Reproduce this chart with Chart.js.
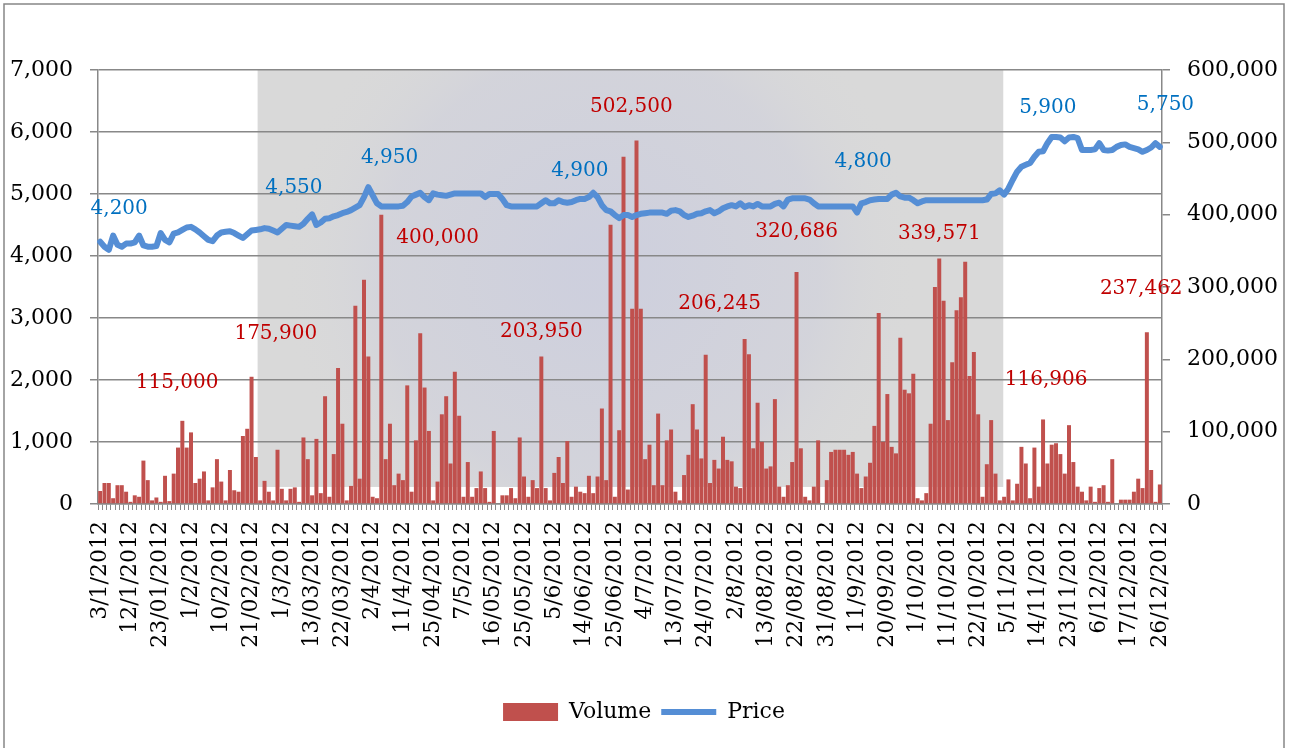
<!DOCTYPE html>
<html><head><meta charset="utf-8">
<script src="https://cdn.jsdelivr.net/npm/chart.js@4.4.0/dist/chart.umd.min.js"></script>
<style>html,body{margin:0;padding:0;background:#fff;}#wrap{position:relative;width:1291px;height:748px;overflow:hidden}</style>
</head><body><div id="wrap"><canvas id="c" width="1291" height="748"></canvas></div>
<script>
const dates = [
'3/1/2012','4/1/2012','5/1/2012','6/1/2012','9/1/2012','10/1/2012','11/1/2012',
'12/1/2012','13/01/2012','16/01/2012','17/01/2012','18/01/2012','19/01/2012','20/01/2012',
'23/01/2012','24/01/2012','25/01/2012','26/01/2012','27/01/2012','30/01/2012','31/01/2012',
'1/2/2012','2/2/2012','3/2/2012','6/2/2012','7/2/2012','8/2/2012','9/2/2012',
'10/2/2012','13/02/2012','14/02/2012','15/02/2012','16/02/2012','17/02/2012','20/02/2012',
'21/02/2012','22/02/2012','23/02/2012','24/02/2012','27/02/2012','28/02/2012','29/02/2012',
'1/3/2012','2/3/2012','5/3/2012','6/3/2012','7/3/2012','8/3/2012','9/3/2012',
'13/03/2012','14/03/2012','15/03/2012','16/03/2012','19/03/2012','20/03/2012','21/03/2012',
'22/03/2012','23/03/2012','26/03/2012','27/03/2012','28/03/2012','29/03/2012','30/03/2012',
'2/4/2012','3/4/2012','4/4/2012','5/4/2012','6/4/2012','9/4/2012','10/4/2012',
'11/4/2012','12/4/2012','13/04/2012','16/04/2012','17/04/2012','19/04/2012','23/04/2012',
'25/04/2012','26/04/2012','27/04/2012','30/04/2012','2/5/2012','3/5/2012','4/5/2012',
'7/5/2012','8/5/2012','9/5/2012','10/5/2012','11/5/2012','14/05/2012','15/05/2012',
'16/05/2012','17/05/2012','18/05/2012','21/05/2012','22/05/2012','23/05/2012','24/05/2012',
'25/05/2012','28/05/2012','29/05/2012','30/05/2012','31/05/2012','1/6/2012','4/6/2012',
'5/6/2012','6/6/2012','7/6/2012','8/6/2012','11/6/2012','12/6/2012','13/06/2012',
'14/06/2012','15/06/2012','18/06/2012','19/06/2012','20/06/2012','21/06/2012','22/06/2012',
'25/06/2012','26/06/2012','27/06/2012','28/06/2012','29/06/2012','2/7/2012','3/7/2012',
'4/7/2012','5/7/2012','6/7/2012','9/7/2012','10/7/2012','11/7/2012','12/7/2012',
'13/07/2012','16/07/2012','17/07/2012','18/07/2012','19/07/2012','20/07/2012','23/07/2012',
'24/07/2012','25/07/2012','26/07/2012','27/07/2012','30/07/2012','31/07/2012','1/8/2012',
'2/8/2012','3/8/2012','6/8/2012','7/8/2012','8/8/2012','9/8/2012','10/8/2012',
'13/08/2012','14/08/2012','15/08/2012','16/08/2012','17/08/2012','20/08/2012','21/08/2012',
'22/08/2012','23/08/2012','24/08/2012','27/08/2012','28/08/2012','29/08/2012','30/08/2012',
'31/08/2012','3/9/2012','4/9/2012','5/9/2012','6/9/2012','7/9/2012','10/9/2012',
'11/9/2012','12/9/2012','13/09/2012','14/09/2012','17/09/2012','18/09/2012','19/09/2012',
'20/09/2012','21/09/2012','24/09/2012','25/09/2012','26/09/2012','27/09/2012','28/09/2012',
'1/10/2012','2/10/2012','3/10/2012','4/10/2012','5/10/2012','8/10/2012','9/10/2012',
'11/10/2012','12/10/2012','15/10/2012','16/10/2012','17/10/2012','18/10/2012','19/10/2012',
'22/10/2012','23/10/2012','24/10/2012','25/10/2012','26/10/2012','29/10/2012','30/10/2012',
'5/11/2012','6/11/2012','7/11/2012','8/11/2012','9/11/2012','12/11/2012','13/11/2012',
'14/11/2012','15/11/2012','16/11/2012','19/11/2012','20/11/2012','21/11/2012','22/11/2012',
'23/11/2012','26/11/2012','27/11/2012','28/11/2012','29/11/2012','30/11/2012','3/12/2012',
'6/12/2012','7/12/2012','10/12/2012','11/12/2012','12/12/2012','13/12/2012','14/12/2012',
'17/12/2012','18/12/2012','19/12/2012','20/12/2012','21/12/2012','24/12/2012','25/12/2012',
'26/12/2012'];

const volume = [
18000,29000,29000,8000,26000,26000,17000,3000,12000,10000,
60000,33000,5000,9000,3000,39000,4000,42000,78000,115000,
78000,99000,29000,35000,45000,5000,23000,62000,31000,5000,
47000,19000,17000,94000,104000,175900,65000,5000,32000,17000,
5000,75000,21000,5000,21000,23000,3000,92000,62000,12000,
90000,15000,149000,10000,69000,188000,111000,5000,25000,274000,
35000,310000,204000,10000,8000,400000,62000,111000,26000,42000,
33000,164000,17000,88000,236000,161000,101000,5000,31000,124000,
149000,56000,183000,122000,10000,58000,10000,22000,45000,22000,
3000,101000,0,12000,12000,22000,8000,92000,38000,10000,
33000,22000,203950,22000,5000,43000,65000,29000,87000,10000,
24000,17000,15000,39000,15000,38000,132000,33000,386000,10000,
102000,480000,20000,270000,502500,270000,62000,82000,26000,125000,
26000,88000,103000,17000,5000,40000,68000,138000,103000,63000,
206245,29000,61000,49000,93000,61000,59000,24000,22000,228000,
207000,77000,140000,86000,49000,52000,145000,24000,10000,26000,
58000,320686,77000,10000,5000,24000,88000,0,33000,72000,
75000,75000,75000,68000,72000,42000,22000,38000,57000,108000,
264000,86000,152000,79000,70000,230000,158000,153000,180000,8000,
5000,15000,111000,300000,339571,281000,116000,196000,268000,286000,
335000,177000,210000,124000,10000,55000,116000,42000,5000,10000,
34000,5000,28000,79000,56000,8000,78000,24000,116906,56000,
82000,84000,69000,42000,109000,58000,24000,17000,5000,24000,
3000,22000,26000,3000,62000,1000,6000,6000,6000,17000,
35000,22000,237462,47000,3000,27000];

const price = [
4230,4150,4100,4330,4180,4150,4200,4200,4220,4330,
4170,4150,4150,4160,4370,4260,4220,4360,4380,4420,
4460,4470,4430,4380,4320,4260,4240,4330,4380,4390,
4400,4370,4330,4290,4350,4410,4420,4430,4450,4440,
4410,4380,4440,4500,4490,4480,4470,4520,4600,4670,
4500,4540,4600,4610,4640,4660,4690,4710,4740,4780,
4820,4950,5110,4980,4850,4800,4800,4800,4800,4800,
4810,4870,4960,4990,5020,4950,4900,5010,4990,4980,
4970,4990,5010,5010,5010,5010,5010,5010,5010,4950,
5000,5000,5000,4920,4820,4800,4800,4800,4800,4800,
4800,4800,4850,4900,4850,4850,4900,4870,4860,4870,
4900,4920,4920,4950,5020,4950,4820,4740,4720,4660,
4610,4660,4660,4630,4660,4680,4690,4700,4700,4700,
4700,4680,4730,4740,4720,4660,4630,4650,4680,4690,
4720,4740,4690,4720,4770,4800,4820,4800,4850,4790,
4820,4800,4840,4800,4800,4800,4840,4860,4800,4910,
4930,4930,4930,4930,4910,4850,4800,4800,4800,4800,
4800,4800,4800,4800,4800,4700,4850,4870,4900,4910,
4920,4920,4920,4990,5020,4960,4940,4940,4900,4850,
4880,4900,4900,4900,4900,4900,4900,4900,4900,4900,
4900,4900,4900,4900,4900,4910,5000,5010,5060,4990,
5090,5230,5360,5440,5470,5500,5600,5680,5690,5820,
5920,5920,5910,5850,5910,5920,5900,5710,5710,5710,
5720,5820,5710,5700,5710,5760,5790,5800,5760,5740,
5720,5680,5710,5750,5820,5760];

const seriesNames = ['Volume', 'Price'];
const priceAxis = {min: 0, max: 7000, step: 1000};
const volumeAxis = {min: 0, max: 600000, step: 100000};
const labelEvery = 7;

// callout texts: category position (index) and height on the price axis
const notes = [
  {text:'4,200',   kind:'price',  at:4.4,   level:4754},
  {text:'4,550',   kind:'price',  at:44.8,  level:5108},
  {text:'4,950',   kind:'price',  at:66.9,  level:5576},
  {text:'4,900',   kind:'price',  at:110.9, level:5376},
  {text:'4,800',   kind:'price',  at:176.4, level:5521},
  {text:'5,900',   kind:'price',  at:219.1, level:6383},
  {text:'5,750',   kind:'price',  at:246.3, level:6436},
  {text:'115,000', kind:'volume', at:17.8,  level:1957},
  {text:'175,900', kind:'volume', at:40.6,  level:2753},
  {text:'400,000', kind:'volume', at:78.0,  level:4291},
  {text:'203,950', kind:'volume', at:102.0, level:2779},
  {text:'502,500', kind:'volume', at:122.8, level:6399},
  {text:'206,245', kind:'volume', at:143.2, level:3237},
  {text:'320,686', kind:'volume', at:161.0, level:4392},
  {text:'339,571', kind:'volume', at:194.0, level:4366},
  {text:'116,906', kind:'volume', at:218.7, level:2011},
  {text:'237,462', kind:'volume', at:240.7, level:3479}
];
// shaded picture band behind the plot (category range, bottom on price axis)
const band = {from:36.4, to:208.8, bottomLevel:275};

const FONT = "'DejaVu Serif', 'Liberation Serif', serif";
const BAR_COLOR = '#C0504D';
const LINE_COLOR = '#558ED5';
const GRID = '#888888';

const backdrop = {
  id: 'backdrop',
  beforeDraw(chart) {
    const {ctx, chartArea, scales} = chart;
    const x0 = scales.x.getPixelForValue(band.from);
    const x1 = scales.x.getPixelForValue(band.to);
    const y0 = chartArea.top;
    const y1 = scales.y.getPixelForValue(band.bottomLevel);
    ctx.save();
    ctx.fillStyle = '#d9d9d9';
    ctx.fillRect(x0, y0, x1 - x0, y1 - y0);
    ctx.beginPath();
    ctx.rect(x0, y0, x1 - x0, y1 - y0);
    ctx.clip();
    const cx = (x0 + x1) / 2 - 30, cy = (y0 + y1) / 2 - 10;
    const g = ctx.createRadialGradient(cx, cy, 30, cx, cy, 320);
    g.addColorStop(0, 'rgba(204,206,222,0.85)');
    g.addColorStop(0.65, 'rgba(206,207,220,0.55)');
    g.addColorStop(1, 'rgba(217,217,217,0)');
    ctx.fillStyle = g;
    ctx.fillRect(x0, y0, x1 - x0, y1 - y0);
    ctx.restore();
  },
  afterDraw(chart) {
    const {ctx} = chart;
    ctx.save();
    ctx.strokeStyle = '#868686';
    ctx.lineWidth = 1.5;
    ctx.strokeRect(4, 4, 1280, 800);
    ctx.restore();
  }
};

const callouts = {
  id: 'callouts',
  afterDatasetsDraw(chart) {
    const {ctx, scales} = chart;
    ctx.save();
    ctx.font = '20px ' + FONT;
    ctx.textAlign = 'center';
    ctx.textBaseline = 'middle';
    notes.forEach(n => {
      ctx.fillStyle = n.kind === 'price' ? '#0070C0' : '#C00000';
      ctx.fillText(n.text, scales.x.getPixelForValue(n.at), scales.y.getPixelForValue(n.level));
    });
    ctx.restore();
  }
};

new Chart(document.getElementById('c'), {
  data: {
    labels: dates,
    datasets: [
      {type:'line', label: seriesNames[1], data: price, yAxisID:'y',
       borderColor: LINE_COLOR, backgroundColor: LINE_COLOR, borderWidth: 6,
       pointRadius: 0, tension: 0, borderJoinStyle:'round', borderCapStyle:'round', pointStyle:'line'},
      {type:'bar', label: seriesNames[0], data: volume, yAxisID:'y1',
       backgroundColor: BAR_COLOR, borderWidth: 0, barPercentage: 1, categoryPercentage: 0.92, pointStyle:'rect'}
    ]
  },
  options: {
    responsive: false,
    animation: false,
    devicePixelRatio: 1,
    layout: {padding: {left: 10, right: 13, top: 70, bottom: 15}},
    plugins: {
      tooltip: {enabled: false},
      legend: {
        position: 'bottom',
        labels: {
          font: {family: FONT, size: 22}, color: '#000',
          usePointStyle: true, boxWidth: 55, boxHeight: 18, pointStyleWidth: 55, padding: 10,
          sort: (a, b) => b.datasetIndex - a.datasetIndex
        }
      }
    },
    scales: {
      x: {
        type: 'category', offset: true,
        grid: {drawOnChartArea: false, drawTicks: true, tickLength: 6, color: GRID, offset: true},
        border: {display: true, color: GRID, width: 1.5},
        ticks: {
          autoSkip: false, minRotation: 90, maxRotation: 90, padding: 11,
          font: {family: FONT, size: 22}, color: '#000',
          callback: function(v, i) { return i % labelEvery === 0 ? dates[i] : ''; }
        },
        afterFit(s) { s.height = 187; }
      },
      y: {
        position: 'left', min: priceAxis.min, max: priceAxis.max,
        grid: {color: GRID, lineWidth: 1.5, tickLength: 8},
        border: {display: true, color: GRID, width: 1.5},
        ticks: {stepSize: priceAxis.step, padding: 17, font: {family: FONT, size: 22}, color: '#000'},
        afterFit(s) { s.width = 88; }
      },
      y1: {
        position: 'right', min: volumeAxis.min, max: volumeAxis.max,
        grid: {drawOnChartArea: false, color: GRID, lineWidth: 1.5, tickLength: 8},
        border: {display: true, color: GRID, width: 1.5},
        ticks: {stepSize: volumeAxis.step, padding: 17, font: {family: FONT, size: 22}, color: '#000'},
        afterFit(s) { s.width = 116; }
      }
    }
  },
  plugins: [backdrop, callouts]
});
</script></body></html>
